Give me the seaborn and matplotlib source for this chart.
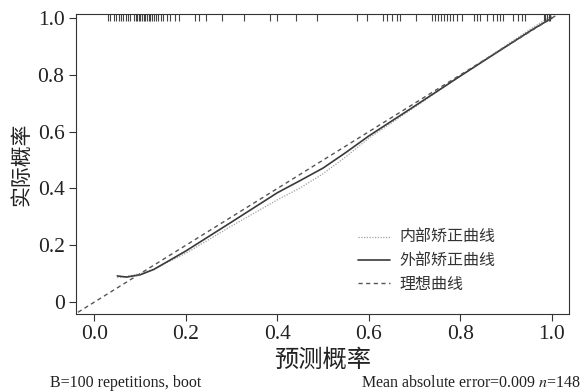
# Curva de calibración (bootstrap) - réplica del gráfico
import numpy as np
import pandas as pd
import matplotlib
matplotlib.use("Agg")
import matplotlib.pyplot as plt
import matplotlib.transforms as mtransforms
import seaborn as sns

# Datos
# -----------------------------------------------------------------------
pred_x = [0.05, 0.07, 0.10, 0.13, 0.20, 0.30, 0.40, 0.45, 0.50, 0.55,
          0.60, 0.70, 0.80, 0.90, 0.96, 1.00]
corrected_y = [0.092, 0.088, 0.096, 0.115, 0.180, 0.282, 0.385, 0.428, 0.472, 0.527,
               0.585, 0.690, 0.796, 0.900, 0.962, 1.000]
apparent_y = [0.086, 0.090, 0.100, 0.116, 0.172, 0.268, 0.360, 0.402, 0.452, 0.512,
              0.577, 0.686, 0.796, 0.904, 0.968, 1.008]
ideal_x = [-0.05, 1.05]
ideal_y = [-0.05, 1.05]

rug_x = [0.029, 0.035, 0.042, 0.048, 0.053, 0.058, 0.063, 0.068, 0.073, 0.077,
         0.086, 0.090, 0.093, 0.097, 0.100, 0.104, 0.108, 0.111, 0.115, 0.119,
         0.122, 0.126, 0.130, 0.135, 0.140, 0.146, 0.151, 0.159, 0.166, 0.177,
         0.184, 0.221, 0.228, 0.243, 0.280, 0.328, 0.383, 0.399, 0.441, 0.487,
         0.574, 0.596, 0.632, 0.640, 0.650, 0.661, 0.669, 0.704, 0.738, 0.745,
         0.752, 0.758, 0.765, 0.771, 0.778, 0.784, 0.792, 0.803, 0.829, 0.836,
         0.843, 0.858, 0.872, 0.880, 0.887, 0.894, 0.916, 0.927, 0.934, 0.941,
         0.982, 0.986, 0.990, 0.994, 0.997]

x_ticks = [0.0, 0.2, 0.4, 0.6, 0.8, 1.0]
x_labels = ["0.0", "0.2", "0.4", "0.6", "0.8", "1.0"]
y_ticks = [0.0, 0.2, 0.4, 0.6, 0.8, 1.0]
y_labels = ["0", "0.2", "0.4", "0.6", "0.8", "1.0"]

# Estilo
# -----------------------------------------------------------------------
sns.set_theme(style="ticks")
plt.rcParams["font.family"] = ["Liberation Serif", "Noto Sans CJK SC"]
plt.rcParams["mathtext.fontset"] = "stix"
plt.rcParams["axes.unicode_minus"] = False

fig = plt.figure(figsize=(5.82, 3.92), dpi=100)
ax = fig.add_axes([0.130, 0.199, 0.848, 0.765])

df_app = pd.DataFrame({"x": pred_x, "y": apparent_y})
df_cor = pd.DataFrame({"x": pred_x, "y": corrected_y})
df_ideal = pd.DataFrame({"x": ideal_x, "y": ideal_y})

sns.lineplot(data=df_app, x="x", y="y", ax=ax, color="#a0a0a0", linestyle=(0, (1, 1.2)),
             linewidth=0.9, label="内部矫正曲线", sort=False)
sns.lineplot(data=df_cor, x="x", y="y", ax=ax, color="#3a3a3a", linestyle="-",
             linewidth=1.2, label="外部矫正曲线", sort=False)
sns.lineplot(data=df_ideal, x="x", y="y", ax=ax, color="#555555", linestyle=(0, (3, 2.5)),
             linewidth=1.0, label="理想曲线", sort=False)

# rug en la parte superior
trans = mtransforms.blended_transform_factory(ax.transData, ax.transAxes)
ax.vlines(rug_x, 0.978, 1.0, transform=trans, color="#444444", linewidth=0.8)

ax.set_xlim(-0.041, 1.038)
ax.set_ylim(-0.042, 1.014)
ax.set_xticks(x_ticks)
ax.set_xticklabels(x_labels)
ax.set_yticks(y_ticks)
ax.set_yticklabels(y_labels)
ax.tick_params(axis="both", labelsize=15.5, length=5, width=0.8, color="#333333",
               labelcolor="#222222", pad=3)

for s in ax.spines.values():
    s.set_linewidth(0.8)
    s.set_color("#333333")

ax.set_xlabel("预测概率", fontsize=17.5, color="#222222", labelpad=4)
ax.set_ylabel("实际概率", fontsize=15, color="#222222", labelpad=4)

leg = ax.legend(loc="upper left", bbox_to_anchor=(0.543, 0.327), frameon=False,
                fontsize=11.5, handlelength=2.0, handletextpad=0.6, labelspacing=0.45,
                labelcolor="#333333")

fig.text(0.086, 0.013, "B=100 repetitions, boot", fontsize=11.5, color="#222222",
         ha="left", va="baseline")
fig.text(0.998, 0.013, "Mean absolute error=0.009 $n$=148", fontsize=11.5,
         color="#222222", ha="right", va="baseline")

fig.savefig("out.png", dpi=100)
